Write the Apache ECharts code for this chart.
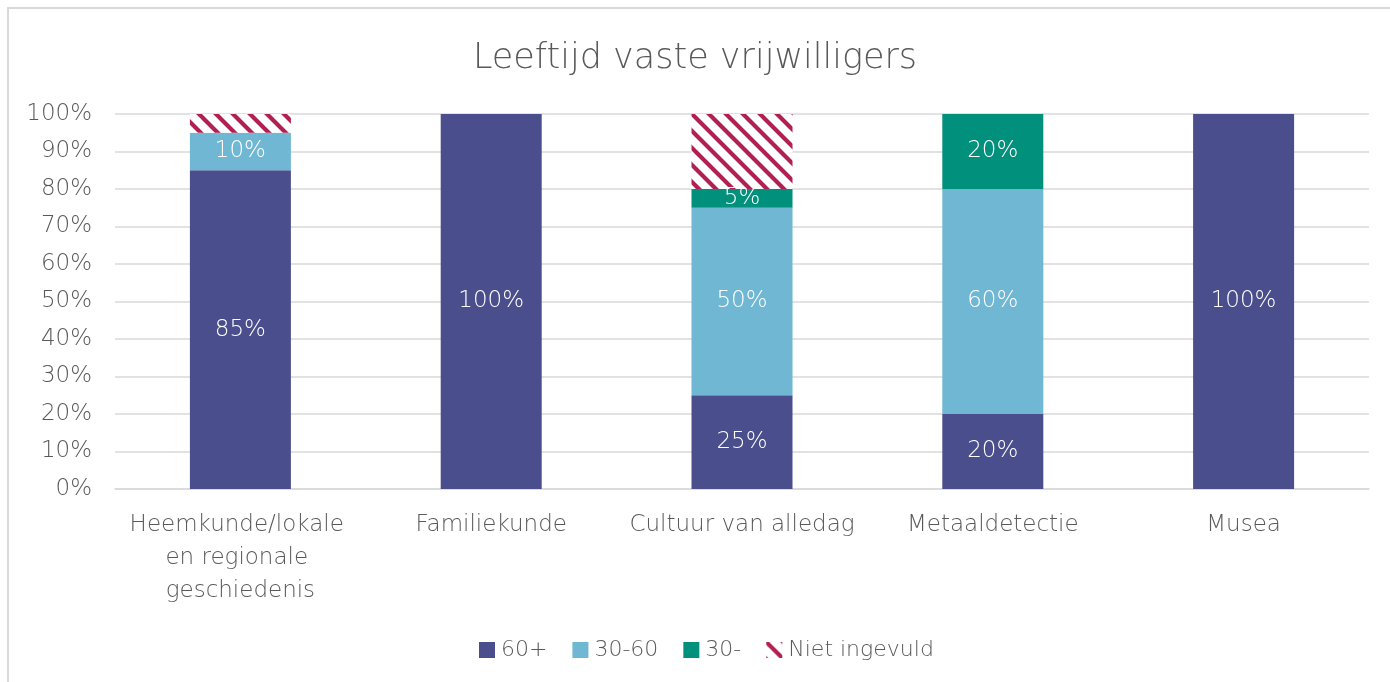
<!DOCTYPE html>
<html>
<head>
<meta charset="utf-8">
<script src="https://cdn.jsdelivr.net/npm/echarts@6/dist/echarts.min.js"></script>
<style>
html,body{margin:0;padding:0;background:#fff;}
#c{width:1390px;height:682px;}
</style>
</head>
<body>
<div id="c"></div>
<script>
const categories = ['Heemkunde/lokale en regionale geschiedenis', 'Familiekunde', 'Cultuur van alledag', 'Metaaldetectie', 'Musea'];
const s60plus = [85, 100, 25, 20, 100];
const s30to60 = [10, 0, 50, 60, 0];
const s30min = [0, 0, 5, 20, 0];
const sNiet = [5, 0, 20, 0, 0];
const seriesNames = ['60+', '30-60', '30-', 'Niet ingevuld'];
const yTicks = [0, 10, 20, 30, 40, 50, 60, 70, 80, 90, 100];

const FONT = '"DejaVu Sans"';
const TXT = '#595959';
const FS = 23;

function hatch() {
  const s = 17;
  const cv = document.createElement('canvas');
  cv.width = s; cv.height = s;
  const ctx = cv.getContext('2d');
  ctx.fillStyle = '#ffffff';
  ctx.fillRect(0, 0, s, s);
  ctx.strokeStyle = '#B21F53';
  ctx.lineWidth = 4.2;
  ctx.lineCap = 'square';
  [[-3, -3, s + 3, s + 3], [-3, s - 3, 3, s + 3], [s - 3, -3, s + 3, 3]].forEach(l => {
    ctx.beginPath(); ctx.moveTo(l[0], l[1]); ctx.lineTo(l[2], l[3]); ctx.stroke();
  });
  return cv;
}

const chart = echarts.init(document.getElementById('c'), null, {renderer: 'canvas'});
const lbl = {
  show: true, position: 'inside', color: '#ffffff', fontFamily: FONT, fontSize: FS, fontWeight: 200,
  formatter: p => p.value > 0 ? p.value + '%' : ''
};
function bar(name, data, color, withLabel) {
  return {
    name, type: 'bar', stack: 'total', data, barWidth: 101,
    itemStyle: {color},
    label: withLabel ? lbl : {show: false},
    emphasis: {disabled: true}
  };
}
chart.setOption({
  animation: false,
  backgroundColor: '#ffffff',
  title: {
    text: 'Leeftijd vaste vrijwilligers', left: 'center', top: 36,
    textStyle: {fontFamily: FONT, fontSize: 35, fontWeight: 200, color: TXT}
  },
  graphic: [{
    type: 'rect', shape: {x: 8, y: 8, width: 1400, height: 700},
    style: {fill: 'none', stroke: '#D9D9D9', lineWidth: 2}, silent: true, z: -1
  }],
  legend: {
    bottom: 16, left: 474, itemWidth: 16, itemHeight: 16, itemGap: 25,
    icon: 'rect',
    textStyle: {fontFamily: FONT, fontSize: 22, fontWeight: 200, color: TXT, padding: [0, 0, 0, 1]},
    data: seriesNames
  },
  grid: {left: 115, right: 21, top: 114, bottom: 193, containLabel: false},
  xAxis: {
    type: 'category', data: categories,
    axisLine: {lineStyle: {color: '#D9D9D9', width: 1.5}},
    axisTick: {show: false},
    axisLabel: {
      fontFamily: FONT, fontSize: FS, fontWeight: 200, color: TXT, margin: 20, lineHeight: 33,
      width: 228, overflow: 'break', interval: 0
    }
  },
  yAxis: {
    type: 'value', min: 0, max: 100, interval: 10,
    axisLine: {show: false}, axisTick: {show: false},
    splitLine: {lineStyle: {color: '#D9D9D9', width: 1.5}},
    axisLabel: {
      fontFamily: FONT, fontSize: FS, fontWeight: 200, color: TXT, margin: 23,
      formatter: v => yTicks.indexOf(v) >= 0 ? v + '%' : ''
    }
  },
  series: [
    bar(seriesNames[0], s60plus, '#4A4E8C', true),
    bar(seriesNames[1], s30to60, '#6FB7D2', true),
    bar(seriesNames[2], s30min, '#00907C', true),
    bar(seriesNames[3], sNiet, {image: hatch(), repeat: 'repeat'}, false)
  ]
});
</script>
</body>
</html>
